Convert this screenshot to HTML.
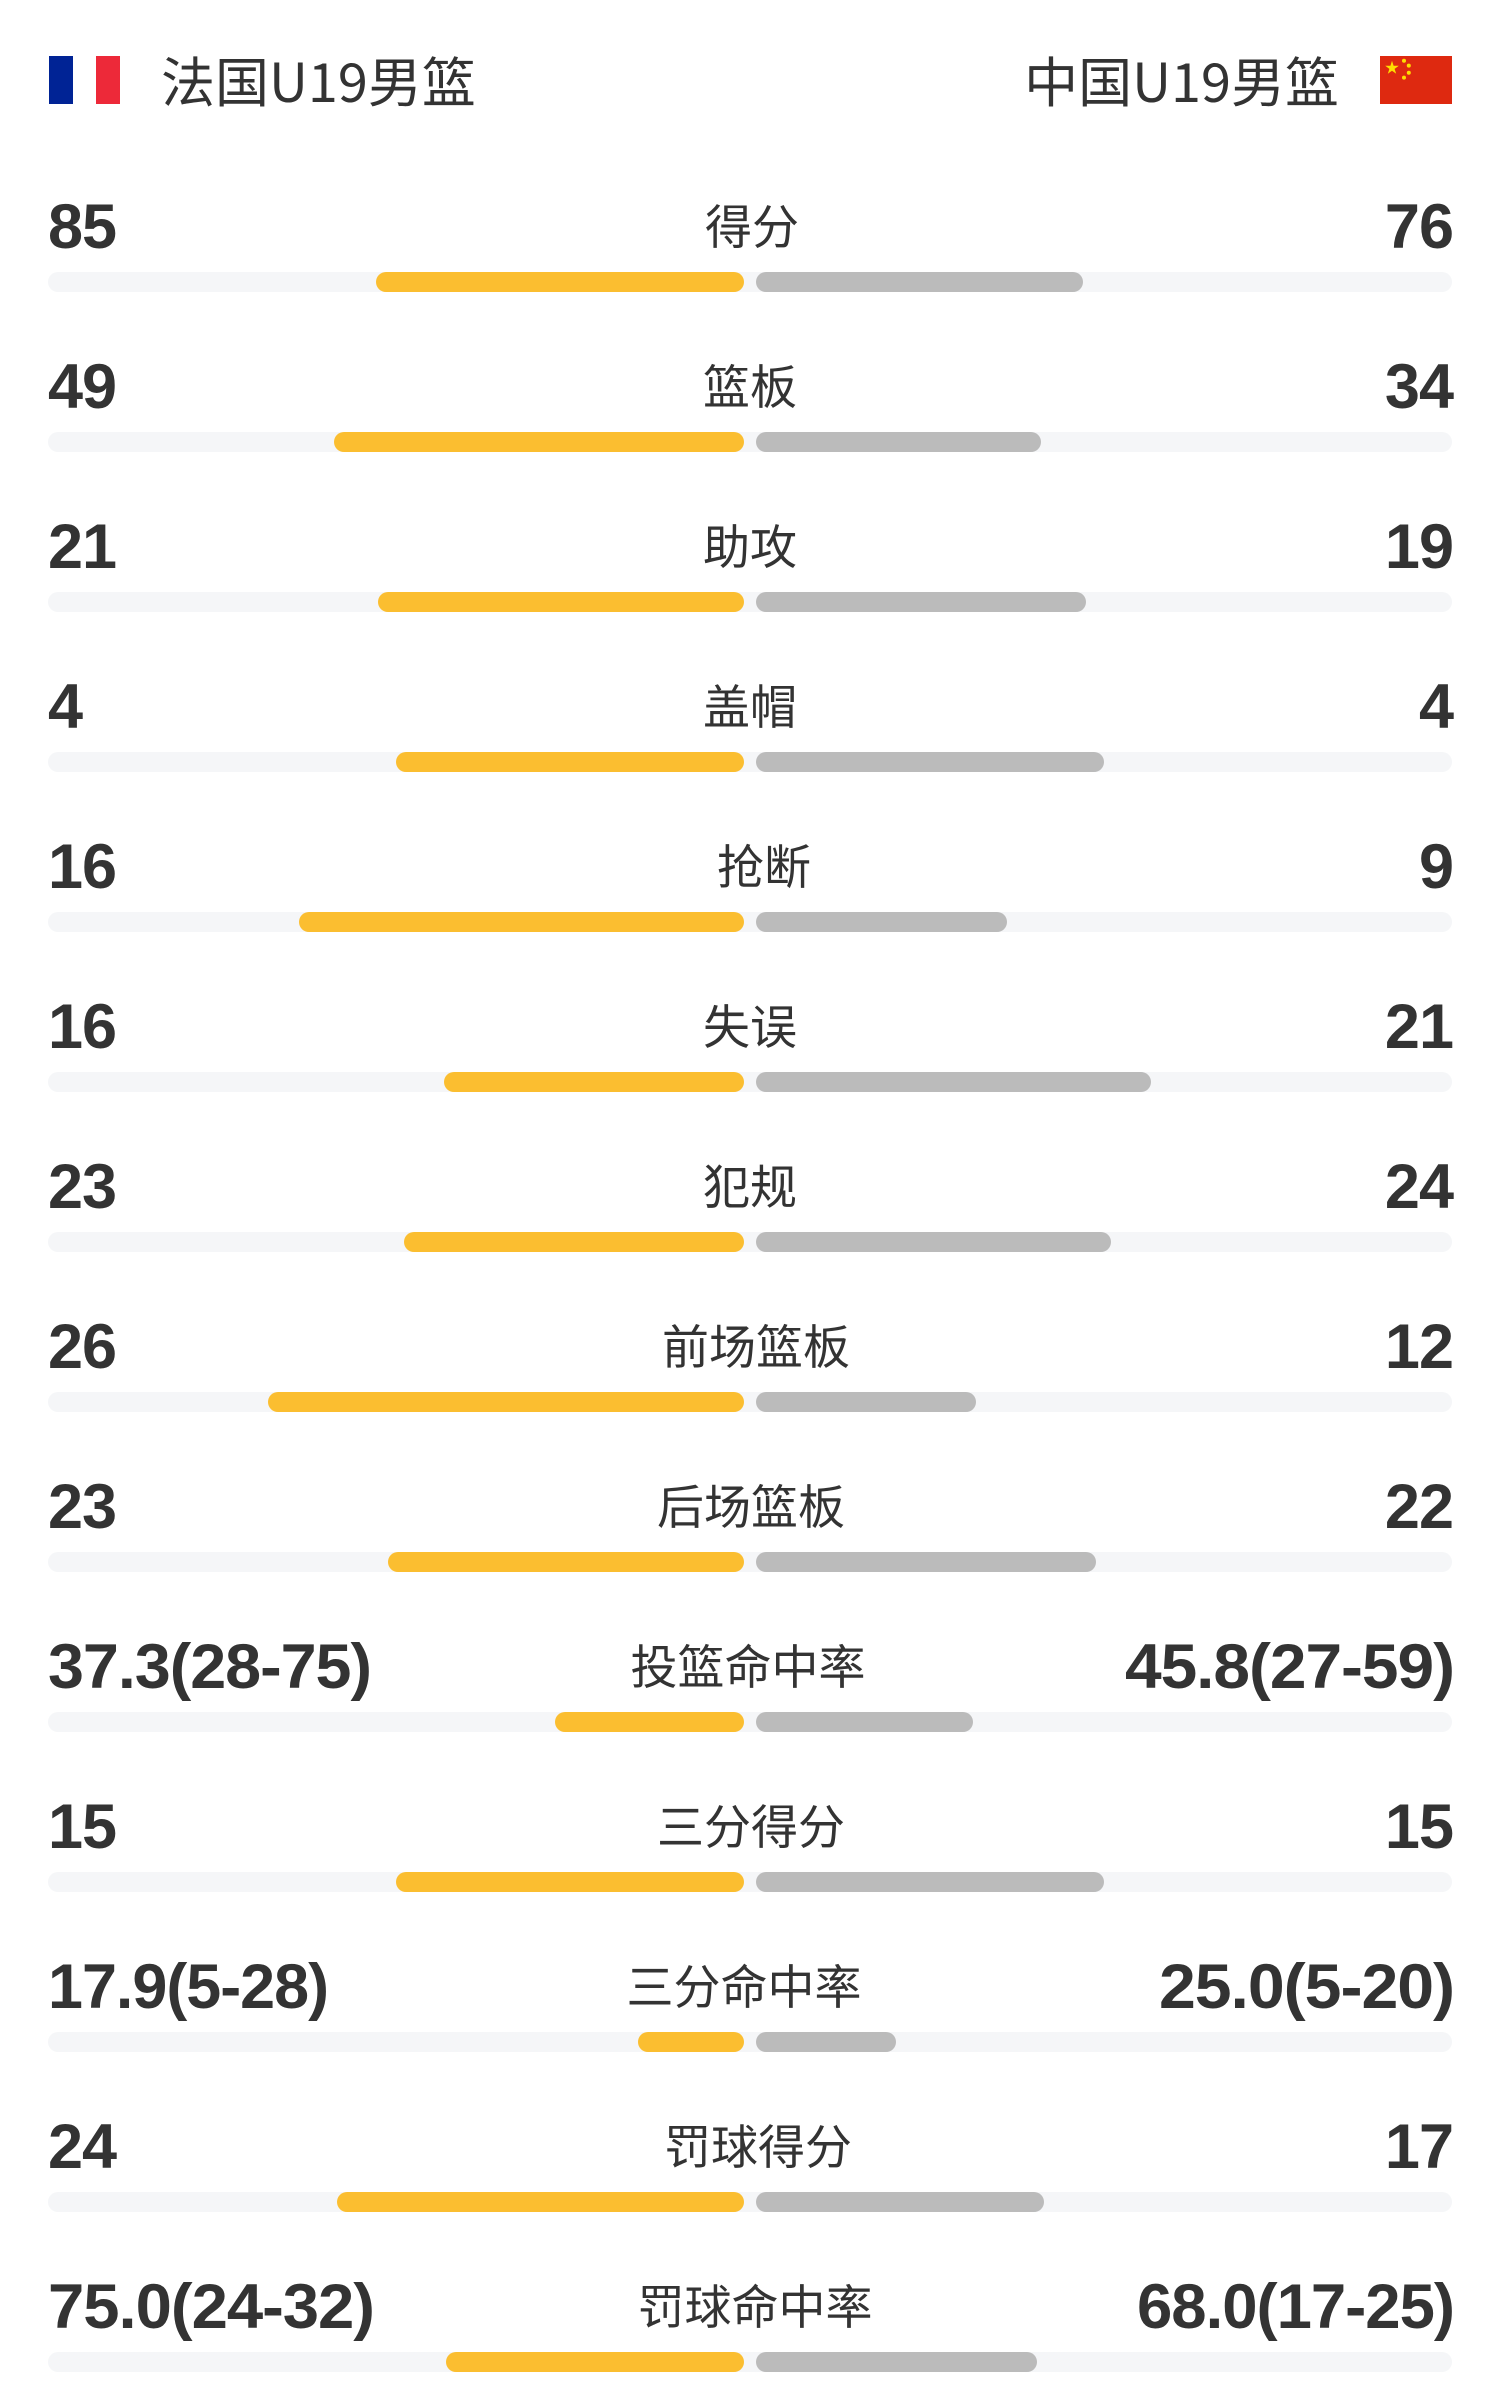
<!DOCTYPE html>
<html>
<head>
<meta charset="utf-8">
<style>
html,body{margin:0;padding:0;background:#ffffff;}
body{width:1500px;height:2400px;overflow:hidden;}
svg{display:block;}
.num{font-family:"Liberation Sans","Noto Sans CJK SC",sans-serif;font-weight:bold;font-size:63px;fill:#333333;letter-spacing:-1px;}
.lab{font-family:"Noto Sans CJK SC","Liberation Sans",sans-serif;font-size:47px;fill:#333333;}
.ttl{font-family:"Noto Sans CJK SC","Liberation Sans",sans-serif;font-size:54px;fill:#333333;}
</style>
</head>
<body>
<svg width="1500" height="2400" viewBox="0 0 1500 2400" xmlns="http://www.w3.org/2000/svg">
<rect x="0" y="0" width="1500" height="2400" fill="#ffffff"/>
<!-- France flag -->
<rect x="49" y="56" width="24" height="48" fill="#002395"/>
<rect x="73" y="56" width="23" height="48" fill="#ffffff"/>
<rect x="96" y="56" width="24" height="48" fill="#ED2939"/>
<text class="ttl" x="161" y="102">法国U19男篮</text>
<text class="ttl" x="1339" y="102" text-anchor="end">中国U19男篮</text>
<!-- China flag -->
<rect x="1380" y="56" width="72" height="48" fill="#DE2910"/>
<g fill="#FFDE00">
<polygon points="1392,60.8 1393.6,65.8 1398.8,65.8 1394.6,68.9 1396.2,73.8 1392,70.8 1387.8,73.8 1389.4,68.9 1385.2,65.8 1390.4,65.8"/>
<circle cx="1404" cy="60.8" r="2"/>
<circle cx="1408.8" cy="65.6" r="2"/>
<circle cx="1408.8" cy="72.8" r="2"/>
<circle cx="1404" cy="77.6" r="2"/>
</g>

<g id="rows">
<!-- 0 -->
<text class="num" x="48" y="248">85</text>
<text class="lab" x="752" y="244" text-anchor="middle">得分</text>
<text class="num" x="1453" y="248" text-anchor="end">76</text>
<rect x="48" y="272" width="1404" height="20" rx="10" fill="#F5F6F8"/>
<rect x="376" y="272" width="368" height="20" rx="10" fill="#FBBE30"/>
<rect x="756" y="272" width="327" height="20" rx="10" fill="#BBBBBB"/>
<!-- 1 -->
<text class="num" x="48" y="408">49</text>
<text class="lab" x="750" y="404" text-anchor="middle">篮板</text>
<text class="num" x="1453" y="408" text-anchor="end">34</text>
<rect x="48" y="432" width="1404" height="20" rx="10" fill="#F5F6F8"/>
<rect x="334" y="432" width="410" height="20" rx="10" fill="#FBBE30"/>
<rect x="756" y="432" width="285" height="20" rx="10" fill="#BBBBBB"/>
<!-- 2 -->
<text class="num" x="48" y="568">21</text>
<text class="lab" x="750" y="564" text-anchor="middle">助攻</text>
<text class="num" x="1453" y="568" text-anchor="end">19</text>
<rect x="48" y="592" width="1404" height="20" rx="10" fill="#F5F6F8"/>
<rect x="378" y="592" width="366" height="20" rx="10" fill="#FBBE30"/>
<rect x="756" y="592" width="330" height="20" rx="10" fill="#BBBBBB"/>
<!-- 3 -->
<text class="num" x="48" y="728">4</text>
<text class="lab" x="750" y="724" text-anchor="middle">盖帽</text>
<text class="num" x="1453" y="728" text-anchor="end">4</text>
<rect x="48" y="752" width="1404" height="20" rx="10" fill="#F5F6F8"/>
<rect x="396" y="752" width="348" height="20" rx="10" fill="#FBBE30"/>
<rect x="756" y="752" width="348" height="20" rx="10" fill="#BBBBBB"/>
<!-- 4 -->
<text class="num" x="48" y="888">16</text>
<text class="lab" x="764" y="884" text-anchor="middle">抢断</text>
<text class="num" x="1453" y="888" text-anchor="end">9</text>
<rect x="48" y="912" width="1404" height="20" rx="10" fill="#F5F6F8"/>
<rect x="299" y="912" width="445" height="20" rx="10" fill="#FBBE30"/>
<rect x="756" y="912" width="251" height="20" rx="10" fill="#BBBBBB"/>
<!-- 5 -->
<text class="num" x="48" y="1048">16</text>
<text class="lab" x="750" y="1044" text-anchor="middle">失误</text>
<text class="num" x="1453" y="1048" text-anchor="end">21</text>
<rect x="48" y="1072" width="1404" height="20" rx="10" fill="#F5F6F8"/>
<rect x="444" y="1072" width="300" height="20" rx="10" fill="#FBBE30"/>
<rect x="756" y="1072" width="395" height="20" rx="10" fill="#BBBBBB"/>
<!-- 6 -->
<text class="num" x="48" y="1208">23</text>
<text class="lab" x="750" y="1204" text-anchor="middle">犯规</text>
<text class="num" x="1453" y="1208" text-anchor="end">24</text>
<rect x="48" y="1232" width="1404" height="20" rx="10" fill="#F5F6F8"/>
<rect x="404" y="1232" width="340" height="20" rx="10" fill="#FBBE30"/>
<rect x="756" y="1232" width="355" height="20" rx="10" fill="#BBBBBB"/>
<!-- 7 -->
<text class="num" x="48" y="1368">26</text>
<text class="lab" x="756" y="1364" text-anchor="middle">前场篮板</text>
<text class="num" x="1453" y="1368" text-anchor="end">12</text>
<rect x="48" y="1392" width="1404" height="20" rx="10" fill="#F5F6F8"/>
<rect x="268" y="1392" width="476" height="20" rx="10" fill="#FBBE30"/>
<rect x="756" y="1392" width="220" height="20" rx="10" fill="#BBBBBB"/>
<!-- 8 -->
<text class="num" x="48" y="1528">23</text>
<text class="lab" x="751" y="1524" text-anchor="middle">后场篮板</text>
<text class="num" x="1453" y="1528" text-anchor="end">22</text>
<rect x="48" y="1552" width="1404" height="20" rx="10" fill="#F5F6F8"/>
<rect x="388" y="1552" width="356" height="20" rx="10" fill="#FBBE30"/>
<rect x="756" y="1552" width="340" height="20" rx="10" fill="#BBBBBB"/>
<!-- 9 -->
<text class="num" x="48" y="1688" textLength="323" lengthAdjust="spacingAndGlyphs">37.3(28-75)</text>
<text class="lab" x="748" y="1684" text-anchor="middle">投篮命中率</text>
<text class="num" x="1454" y="1688" text-anchor="end" textLength="329" lengthAdjust="spacingAndGlyphs">45.8(27-59)</text>
<rect x="48" y="1712" width="1404" height="20" rx="10" fill="#F5F6F8"/>
<rect x="555" y="1712" width="189" height="20" rx="10" fill="#FBBE30"/>
<rect x="756" y="1712" width="217" height="20" rx="10" fill="#BBBBBB"/>
<!-- 10 -->
<text class="num" x="48" y="1848">15</text>
<text class="lab" x="751" y="1844" text-anchor="middle">三分得分</text>
<text class="num" x="1453" y="1848" text-anchor="end">15</text>
<rect x="48" y="1872" width="1404" height="20" rx="10" fill="#F5F6F8"/>
<rect x="396" y="1872" width="348" height="20" rx="10" fill="#FBBE30"/>
<rect x="756" y="1872" width="348" height="20" rx="10" fill="#BBBBBB"/>
<!-- 11 -->
<text class="num" x="48" y="2008" textLength="280" lengthAdjust="spacingAndGlyphs">17.9(5-28)</text>
<text class="lab" x="744" y="2004" text-anchor="middle">三分命中率</text>
<text class="num" x="1454" y="2008" text-anchor="end" textLength="295" lengthAdjust="spacingAndGlyphs">25.0(5-20)</text>
<rect x="48" y="2032" width="1404" height="20" rx="10" fill="#F5F6F8"/>
<rect x="638" y="2032" width="106" height="20" rx="10" fill="#FBBE30"/>
<rect x="756" y="2032" width="140" height="20" rx="10" fill="#BBBBBB"/>
<!-- 12 -->
<text class="num" x="48" y="2168">24</text>
<text class="lab" x="758" y="2164" text-anchor="middle">罚球得分</text>
<text class="num" x="1453" y="2168" text-anchor="end">17</text>
<rect x="48" y="2192" width="1404" height="20" rx="10" fill="#F5F6F8"/>
<rect x="337" y="2192" width="407" height="20" rx="10" fill="#FBBE30"/>
<rect x="756" y="2192" width="288" height="20" rx="10" fill="#BBBBBB"/>
<!-- 13 -->
<text class="num" x="48" y="2328" textLength="326" lengthAdjust="spacingAndGlyphs">75.0(24-32)</text>
<text class="lab" x="755" y="2324" text-anchor="middle">罚球命中率</text>
<text class="num" x="1454" y="2328" text-anchor="end" textLength="317" lengthAdjust="spacingAndGlyphs">68.0(17-25)</text>
<rect x="48" y="2352" width="1404" height="20" rx="10" fill="#F5F6F8"/>
<rect x="446" y="2352" width="298" height="20" rx="10" fill="#FBBE30"/>
<rect x="756" y="2352" width="281" height="20" rx="10" fill="#BBBBBB"/>
</g>
</svg>
</body>
</html>
